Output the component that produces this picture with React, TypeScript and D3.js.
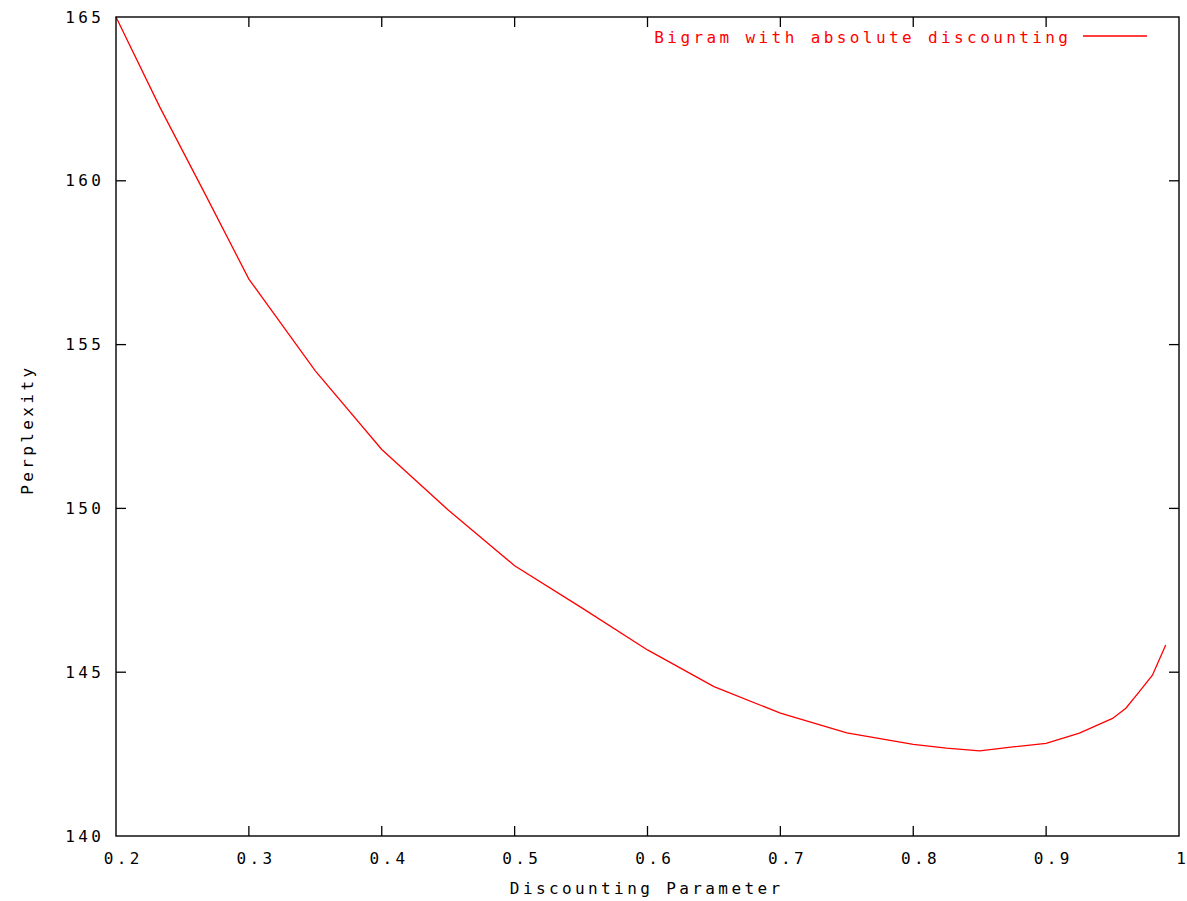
import React from 'react';
import * as d3 from 'd3';

// discounting parameter vs. perplexity
const discount = [0.2, 0.233, 0.267, 0.3, 0.35, 0.4, 0.45, 0.5, 0.55, 0.6, 0.65, 0.7, 0.75, 0.8, 0.825, 0.85, 0.875, 0.9, 0.925, 0.95, 0.96, 0.97, 0.98, 0.99];
const perplexity = [165.0, 162.25, 159.6, 157.0, 154.2, 151.8, 149.95, 148.25, 146.98, 145.68, 144.56, 143.75, 143.15, 142.8, 142.68, 142.6, 142.72, 142.83, 143.14, 143.59, 143.9, 144.4, 144.91, 145.83];

const xTicks = [0.2, 0.3, 0.4, 0.5, 0.6, 0.7, 0.8, 0.9, 1];
const yTicks = [140, 145, 150, 155, 160, 165];

const seriesLabel = 'Bigram with absolute discounting';
const xLabel = 'Discounting Parameter';
const yLabel = 'Perplexity';

const W = 1187;
const H = 901;
const left = 116;
const right = 1179;
const top = 17;
const bottom = 836;
const tickLen = 10;
const font = '"DejaVu Sans Mono", "Liberation Mono", monospace';
const fs = 16;
const ls = 3.4;

export default function App() {
  const x = d3.scaleLinear().domain([0.2, 1]).range([left, right]);
  const y = d3.scaleLinear().domain([140, 165]).range([bottom, top]);

  const line = d3.line<number>()
    .x((d, i) => x(discount[i]))
    .y(d => y(d));

  const fmtX = (v: number) => (v === 1 ? '1' : v.toFixed(1));
  const isLast = (v: number) => v === xTicks[xTicks.length - 1];

  return (
    <svg width={W} height={H} style={{ position: 'absolute', left: 0, top: 0, background: '#fff' }}
      fontFamily={font} fontSize={fs} letterSpacing={ls}>
      {/* ticks, mirrored on all sides */}
      <g stroke="#000" strokeWidth={1.3}>
        {xTicks.slice(1, -1).map(t => (
          <g key={`xt${t}`}>
            <line x1={x(t)} x2={x(t)} y1={bottom} y2={bottom - tickLen} />
            <line x1={x(t)} x2={x(t)} y1={top} y2={top + tickLen} />
          </g>
        ))}
        {yTicks.slice(1, -1).map(t => (
          <g key={`yt${t}`}>
            <line x1={left} x2={left + tickLen} y1={y(t)} y2={y(t)} />
            <line x1={right} x2={right - tickLen} y1={y(t)} y2={y(t)} />
          </g>
        ))}
      </g>

      {xTicks.map(t => (
        <text key={`xl${t}`}
          x={isLast(t) ? x(t) + 2 : x(t) + 7.2}
          letterSpacing={isLast(t) ? 0 : ls}
          y={858} textAnchor="middle" dominantBaseline="central" fill="#000">
          {fmtX(t)}
        </text>
      ))}
      {yTicks.map(t => (
        <text key={`yl${t}`} x={104.4} y={y(t)} textAnchor="end" dominantBaseline="central" fill="#000">
          {t}
        </text>
      ))}

      <text x={645 + ls / 2} y={888} textAnchor="middle" dominantBaseline="central" fill="#000">{xLabel}</text>
      <text transform={`translate(27, ${428 + ls / 2}) rotate(-90)`} textAnchor="middle" dominantBaseline="central" fill="#000">
        {yLabel}
      </text>

      {/* legend */}
      <text x={1068 + ls} y={37} textAnchor="end" dominantBaseline="central" fill="#ff0000">{seriesLabel}</text>
      <line x1={1083} x2={1147} y1={36} y2={36} stroke="#ff0000" strokeWidth={1.3} />

      <path d={line(perplexity) || ''} fill="none" stroke="#ff0000" strokeWidth={1.3} />

      <rect x={left} y={top} width={right - left} height={bottom - top} fill="none" stroke="#000" strokeWidth={1.4} />
    </svg>
  );
}
